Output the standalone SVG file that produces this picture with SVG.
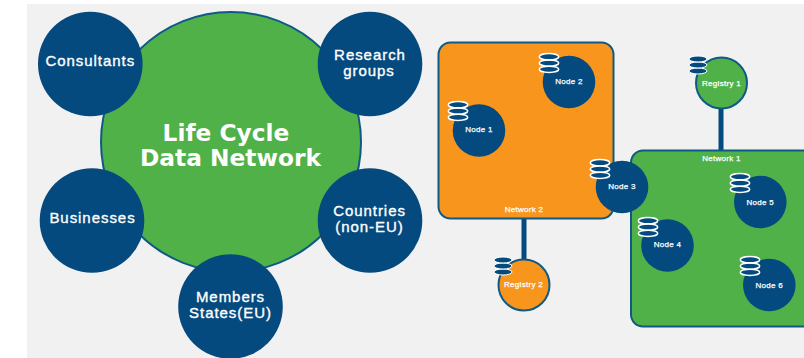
<svg xmlns="http://www.w3.org/2000/svg" width="804" height="358" viewBox="0 0 804 358">
<style>
.navy{fill:#044a7e}
.hub{fill:#50b148;stroke:#0f5a85;stroke-width:2}
.net-o{fill:#f8951d;stroke:#0f5a85;stroke-width:2}
.net-g{fill:#50b148;stroke:#0f5a85;stroke-width:2}
.link{stroke:#044a7e;stroke-width:5;fill:none}
text{fill:#fff;font-family:"Liberation Sans",Arial,sans-serif;text-anchor:middle}
.big{font-family:"DejaVu Sans",Verdana,sans-serif;font-weight:700;font-size:23.300px}
.lab{font-size:15px;stroke:#fff;stroke-width:.35px;letter-spacing:.95px}
.sm{font-size:8px;stroke:#fff;stroke-width:.25px;letter-spacing:.3px}
.db ellipse{fill:#044a7e;stroke:#fff;stroke-width:1.5}
.db2 ellipse{fill:#044a7e;stroke:#fff;stroke-width:1}
</style>
<defs>
<g id="db" class="db">
<ellipse cx="0" cy="6.300" rx="9.700" ry="3.100"/>
<ellipse cx="0" cy="0" rx="9.700" ry="3.100"/>
<ellipse cx="0" cy="-6.300" rx="9.700" ry="3.100"/>
</g>
<g id="db2" class="db2">
<ellipse cx="0" cy="6" rx="9" ry="3"/>
<ellipse cx="0" cy="0" rx="9" ry="3"/>
<ellipse cx="0" cy="-6" rx="9" ry="3"/>
</g>
</defs>
<rect x="27" y="4" width="777" height="354" fill="#f1f1f1"/>
<g id="connectors">
<line class="link" x1="721" y1="106" x2="721" y2="152"/>
<line class="link" x1="524" y1="218" x2="524" y2="264"/>
</g>
<g id="life-cycle"><circle class="hub" cx="231" cy="142" r="130"/>
<text class="big" x="226" y="141">Life Cycle</text><text class="big" x="230.500" y="165.500">Data Network</text></g>
<g id="consultants"><circle class="navy" cx="90.300" cy="64" r="52.300"/><text class="lab" x="90.300" y="66">Consultants</text></g>
<g id="research-groups"><circle class="navy" cx="370" cy="64" r="52.300"/><text class="lab" x="370" y="60">Research</text><text class="lab" x="369" y="76">groups</text></g>
<g id="businesses"><circle class="navy" cx="92" cy="220.500" r="52.300"/><text class="lab" x="92.500" y="223">Businesses</text></g>
<g id="countries"><circle class="navy" cx="370" cy="220.500" r="52.300"/><text class="lab" x="369.500" y="216">Countries</text><text class="lab" x="369.500" y="232">(non-EU)</text></g>
<g id="members"><circle class="navy" cx="230.500" cy="306.500" r="52.300"/><text class="lab" x="230.500" y="302">Members</text><text class="lab" x="230.500" y="318">States(EU)</text></g>
<g id="network-2"><rect class="net-o" x="438.500" y="42.500" width="175" height="176" rx="12"/><text class="sm" x="524" y="212">Network 2</text></g>
<g id="network-1"><rect class="net-g" x="631" y="150.500" width="185" height="176" rx="12"/><text class="sm" x="721.500" y="161">Network 1</text></g>
<g id="node-1"><circle class="navy" cx="479" cy="130.500" r="26.300"/><text class="sm" x="479" y="131.500">Node 1</text><use href="#db" x="458" y="111"/></g>
<g id="node-2"><circle class="navy" cx="569" cy="82" r="26.300"/><text class="sm" x="569" y="83.500">Node 2</text><use href="#db" x="549" y="63"/></g>
<g id="node-3"><circle class="navy" cx="622" cy="187" r="26.300"/><text class="sm" x="622" y="189">Node 3</text><use href="#db" x="600" y="169"/></g>
<g id="node-4"><circle class="navy" cx="667.500" cy="245.500" r="26.300"/><text class="sm" x="667.500" y="247">Node 4</text><use href="#db" x="648" y="227"/></g>
<g id="node-5"><circle class="navy" cx="760.300" cy="202" r="26.300"/><text class="sm" x="760.300" y="205">Node 5</text><use href="#db" x="740" y="183"/></g>
<g id="node-6"><circle class="navy" cx="769.300" cy="285" r="26.300"/><text class="sm" x="769.300" y="287.500">Node 6</text><use href="#db" x="750" y="266"/></g>
<g id="registry-1"><circle cx="721.500" cy="83" r="25.500" fill="#50b148" stroke="#0f5a85" stroke-width="2"/><text class="sm" x="721.500" y="85.500">Registry 1</text><use href="#db2" x="698" y="65"/></g>
<g id="registry-2"><circle cx="524" cy="285" r="25.500" fill="#f8951d" stroke="#0f5a85" stroke-width="2"/><text class="sm" x="523.500" y="286.500">Registry 2</text><use href="#db2" x="503" y="266"/></g>
</svg>
